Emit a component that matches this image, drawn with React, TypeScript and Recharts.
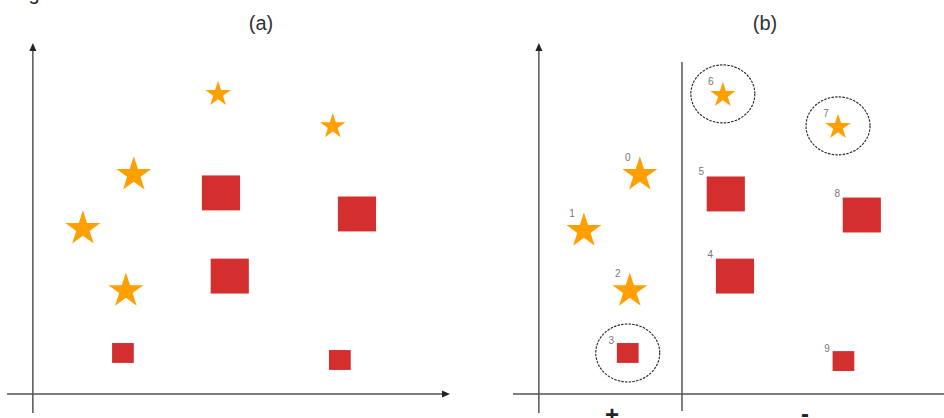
import React from 'react';
import { ScatterChart, Scatter, XAxis, YAxis, ZAxis, ReferenceLine } from 'recharts';

// (a) the weighted sample, w = weight (1 small, 2 large)
const starsA = [
  { x: 44.4, y: 85.8, w: 1 },
  { x: 71.9, y: 76.6, w: 1 },
  { x: 24.2, y: 63.0, w: 2 },
  { x: 12.0, y: 47.6, w: 2 },
  { x: 22.3, y: 29.9, w: 2 },
];
const squaresA = [
  { x: 45.1, y: 57.3, w: 2 },
  { x: 77.7, y: 51.3, w: 2 },
  { x: 47.2, y: 33.6, w: 2 },
  { x: 21.6, y: 11.7, w: 1 },
  { x: 73.6, y: 9.7, w: 1 },
];

// (b) same sample, numbered, split by a stump
const starsB = [
  { id: 0, x: 24.2, y: 63.0, w: 2 },
  { id: 1, x: 10.8, y: 47.0, w: 2 },
  { id: 2, x: 21.8, y: 29.9, w: 2 },
  { id: 6, x: 44.1, y: 85.5, w: 1 },
  { id: 7, x: 71.7, y: 76.4, w: 1 },
];
const squaresB = [
  { id: 3, x: 21.3, y: 11.7, w: 1 },
  { id: 4, x: 47.0, y: 33.6, w: 2 },
  { id: 5, x: 44.8, y: 57.0, w: 2 },
  { id: 8, x: 77.4, y: 51.0, w: 2 },
  { id: 9, x: 73.0, y: 9.4, w: 1 },
];
const circled = [3, 6, 7];
const splitX = 34.3;
const splitTop = 94.6;
const titles = ['(a)', '(b)'];
const sideLabels = ['+', '-'];

const ORANGE = '#ffa000';
const RED = '#d32f2f';
const AXIS = '#555';
const FONT = '"Liberation Sans", Arial, sans-serif';

const starPath = (cx: number, cy: number, R: number) => {
  const r = R * 0.382;
  const oy = cy + 0.0955 * R;
  let d = '';
  for (let i = 0; i < 10; i++) {
    const rad = i % 2 ? r : R;
    const a = -Math.PI / 2 + (i * Math.PI) / 5;
    d += (i ? 'L' : 'M') + (cx + rad * Math.cos(a)).toFixed(2) + ',' + (oy + rad * Math.sin(a)).toFixed(2);
  }
  return d + 'Z';
};

const idText = (x: number, y: number, v: any) => (
  <text x={x} y={y} fontSize={10} fill="#777" fontFamily={FONT} textAnchor="middle" dominantBaseline="central">
    {v}
  </text>
);

const starShape = (labelled: boolean) => (p: any) => {
  const W = p.width || 30;
  const R = W / 1.902;
  return (
    <g>
      <path d={starPath(p.cx, p.cy, R)} fill={ORANGE} />
      {labelled && idText(p.cx - 12, p.cy - (R * 0.5 + 6), p.payload.id)}
    </g>
  );
};

const squareShape = (labelled: boolean) => (p: any) => {
  const W = p.width || 30;
  const w = W * 1.06;
  const h = W * 0.97;
  return (
    <g>
      <rect x={p.cx - w / 2} y={p.cy - h / 2} width={w} height={h} fill={RED} />
      {labelled && idText(p.cx - w / 2 - 5.5, p.cy - h * 0.63, p.payload.id)}
    </g>
  );
};

const ringShape = (p: any) => (
  <ellipse cx={p.cx} cy={p.cy} rx={32} ry={29} fill="none" stroke="#222" strokeWidth={1.1} strokeDasharray="2.5 1.2" />
);

const arrow = (head: boolean) => (p: any) => {
  const { x1, y1, x2, y2 } = p;
  const len = Math.hypot(x2 - x1, y2 - y1) || 1;
  const ux = (x2 - x1) / len;
  const uy = (y2 - y1) / len;
  const bx = x2 - ux * 8;
  const by = y2 - uy * 8;
  return (
    <g>
      <line x1={x1} y1={y1} x2={head ? bx : x2} y2={head ? by : y2} stroke={AXIS} strokeWidth={1.5} />
      {head && (
        <polygon
          points={`${x2},${y2} ${bx - uy * 3.5},${by + ux * 3.5} ${bx + uy * 3.5},${by - ux * 3.5}`}
          fill="#222"
        />
      )}
    </g>
  );
};

const Panel = ({ left, xMax, margin, stars, squares, numbered, split }: any) => (
  <div style={{ position: 'absolute', left, top: 0 }}>
    <ScatterChart width={472} height={418} margin={margin}>
      <XAxis type="number" dataKey="x" domain={[-6.2, xMax]} allowDataOverflow hide />
      <YAxis type="number" dataKey="y" domain={[-5.4, 100]} allowDataOverflow hide />
      <ZAxis zAxisId="star" type="number" dataKey="w" domain={[1, 2]} range={[511, 962]} />
      <ZAxis zAxisId="sq" type="number" dataKey="w" domain={[1, 2]} range={[330, 1018]} />
      <ZAxis zAxisId="ring" type="number" range={[64, 64]} />
      <ReferenceLine
        segment={[{ x: -6.2, y: 0 }, { x: xMax, y: 0 }]}
        ifOverflow="visible"
        shape={arrow(!split)}
      />
      <ReferenceLine
        segment={[{ x: 0, y: -5.4 }, { x: 0, y: 100 }]}
        ifOverflow="visible"
        shape={arrow(true)}
      />
      {split && (
        <ReferenceLine
          segment={[{ x: splitX, y: -4.8 }, { x: splitX, y: splitTop }]}
          ifOverflow="visible"
          stroke={AXIS}
          strokeWidth={1.5}
        />
      )}
      {numbered && (
        <Scatter
          data={[...starsB, ...squaresB].filter((d) => circled.includes(d.id))}
          zAxisId="ring"
          shape={ringShape}
          isAnimationActive={false}
        />
      )}
      <Scatter data={stars} zAxisId="star" shape={starShape(numbered)} isAnimationActive={false} />
      <Scatter data={squares} zAxisId="sq" shape={squareShape(numbered)} isAnimationActive={false} />
    </ScatterChart>
  </div>
);

export default function App() {
  return (
    <div style={{ position: 'absolute', left: 0, top: 0, width: 944, height: 418, background: '#fff', overflow: 'hidden' }}>
      <Panel left={0} xMax={100} margin={{ top: 43, right: 22, bottom: 5, left: 7 }} stars={starsA} squares={squaresA} />
      <Panel
        left={472}
        xMax={97.1}
        margin={{ top: 43, right: 0, bottom: 5, left: 41 }}
        stars={starsB}
        squares={squaresB}
        numbered
        split
      />
      <svg width={944} height={418} style={{ position: 'absolute', left: 0, top: 0, pointerEvents: 'none' }}>
        <text x={34} y={0} fontSize={20} fill="#222" fontFamily={FONT} textAnchor="middle">g</text>
        <text x={261} y={30} fontSize={20} fill="#333" fontFamily={FONT} textAnchor="middle">{titles[0]}</text>
        <text x={765} y={30} fontSize={20} fill="#333" fontFamily={FONT} textAnchor="middle">{titles[1]}</text>
        <text x={612} y={423} fontSize={24} fontWeight="bold" fill="#222" fontFamily={FONT} textAnchor="middle">{sideLabels[0]}</text>
        <text x={805} y={421.5} fontSize={24} fontWeight="bold" fill="#222" fontFamily={FONT} textAnchor="middle">{sideLabels[1]}</text>
      </svg>
    </div>
  );
}
